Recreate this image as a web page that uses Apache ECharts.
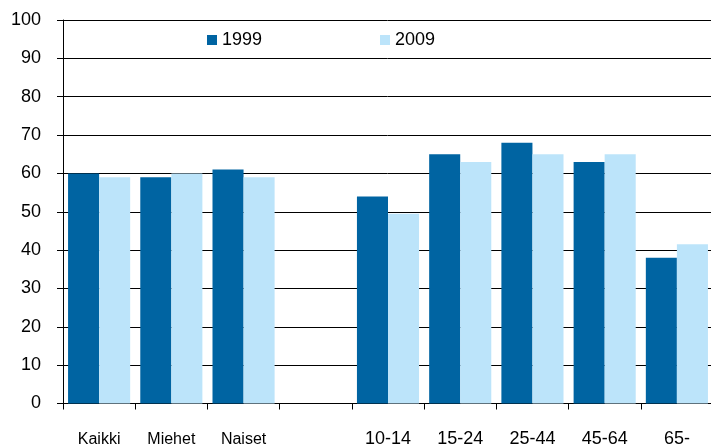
<!DOCTYPE html>
<html>
<head>
<meta charset="utf-8">
<script src="https://cdn.jsdelivr.net/npm/echarts@6/dist/echarts.min.js"></script>
<style>
  html, body { margin: 0; padding: 0; background: #fff; }
  #chart { width: 711px; height: 444px; }
</style>
</head>
<body>
<div id="chart"></div>
<script>
const categories = ['Kaikki', 'Miehet', 'Naiset', '', '10-14', '15-24', '25-44', '45-64', '65-'];
const values1999 = [60, 59, 61, null, 54, 65, 68, 63, 38];
const values2009 = [59, 60, 59, null, 49.5, 63, 65, 65, 41.5];
const yTicks = [0, 10, 20, 30, 40, 50, 60, 70, 80, 90, 100];

const chart = echarts.init(document.getElementById('chart'));

const numFont = 'Liberation Sans, Arial, sans-serif';

const option = {
  animation: false,
  legend: [
    {
      data: ['1999'],
      left: 202, top: 26,
      icon: 'rect', itemWidth: 10, itemHeight: 10,
      textStyle: { fontFamily: numFont, fontSize: 18, color: '#000' }
    },
    {
      data: ['2009'],
      left: 375, top: 26,
      icon: 'rect', itemWidth: 10, itemHeight: 10,
      textStyle: { fontFamily: numFont, fontSize: 18, color: '#000' }
    }
  ],
  grid: { left: 63, right: -2, top: 20, bottom: 40.5, containLabel: false, outerBoundsMode: 'none' },
  xAxis: {
    type: 'category',
    data: categories,
    axisLine: { lineStyle: { color: '#000', width: 1 } },
    axisTick: { show: true, length: 6, lineStyle: { color: '#000' } },
    axisLabel: {
      interval: 0,
      margin: 26,
      color: '#000',
      fontSize: 18,
      fontFamily: numFont,
      // words in the reference are narrower than the digits
      formatter: v => /^[0-9]/.test(v) ? '{d|' + v + '}' : '{w|' + v + '}',
      rich: {
        d: { fontFamily: numFont, fontSize: 18, lineHeight: 20, color: '#000' },
        w: { fontFamily: numFont, fontSize: 16, lineHeight: 20, color: '#000' }
      }
    }
  },
  yAxis: {
    type: 'value',
    min: yTicks[0],
    max: yTicks[yTicks.length - 1],
    interval: 10,
    axisLine: { show: true, lineStyle: { color: '#000', width: 1 } },
    axisTick: { show: true, length: 6, lineStyle: { color: '#000' } },
    axisLabel: { margin: 22, color: '#000', fontSize: 18, fontFamily: numFont },
    splitLine: { show: true, lineStyle: { color: '#000', width: 1 } }
  },
  series: [
    {
      name: '1999',
      type: 'bar',
      data: values1999,
      barGap: '0%',
      barCategoryGap: '14%',
      itemStyle: { color: '#0064a2' }
    },
    {
      name: '2009',
      type: 'bar',
      data: values2009,
      itemStyle: { color: '#bce4fa' }
    }
  ]
};

chart.setOption(option);
</script>
</body>
</html>
